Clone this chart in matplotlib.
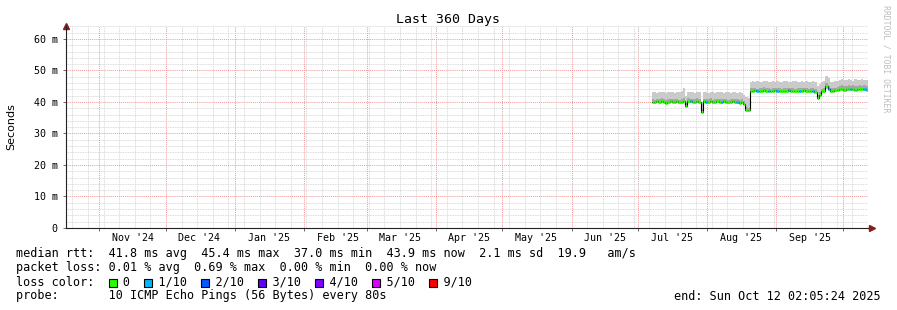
import matplotlib
matplotlib.use('Agg')
import matplotlib.pyplot as plt
import matplotlib.dates as mdates
import matplotlib.transforms as mtransforms
from matplotlib.patches import Rectangle
from matplotlib.ticker import MultipleLocator, FuncFormatter
import numpy as np
import pandas as pd
from datetime import datetime

# time window (360 days ending at the graph's end stamp)
t_start = datetime(2024, 10, 17, 2, 5, 24)
t_end = datetime(2025, 10, 12, 2, 5, 24)

# daily samples Jul 7 .. Oct 11 2025, values in ms
days = pd.date_range('2025-07-07', '2025-10-11', freq='D')

median = [40.1, 39.9, 40.2, 40.0, 40.3, 40.1, 39.8, 40.0, 40.2, 40.1, 40.0, 40.2, 39.9, 40.1, 40.3,
          38.8,
          40.4, 40.2, 40.0, 40.1, 40.3, 40.0,
          36.9,
          40.2, 40.0, 40.1, 40.3, 39.9, 40.0, 40.2, 40.1, 40.0, 40.2, 40.1, 39.9, 40.0, 40.2, 40.1, 40.0, 39.8, 40.1,
          39.5, 37.5, 37.3,
          43.6, 43.5, 43.7, 43.4, 43.6, 43.5, 43.8, 43.5, 43.6, 43.4, 43.5, 43.7, 43.6, 43.5, 43.4,
          43.6, 43.5, 43.7, 43.5, 43.6, 43.4, 43.5, 43.6, 43.5, 43.7, 43.5, 43.4, 43.6, 43.5, 43.3,
          41.4, 42.3, 43.4, 43.6, 45.0, 44.2, 43.6, 43.5, 43.7, 43.8,
          44.0, 44.1, 43.9, 44.0, 44.2, 44.0, 44.1, 43.9, 44.0, 44.1, 44.0, 44.2, 43.9]

smoke_hi = [43.0, 43.2, 42.9, 43.1, 43.3, 43.0, 42.8, 43.1, 43.2, 43.0, 42.9, 43.1, 43.3, 43.4, 44.5,
            42.0,
            43.1, 43.0, 43.2, 42.9, 43.1, 43.0,
            40.0,
            43.1, 43.0, 42.8, 43.2, 43.1, 42.9, 43.0, 43.2, 43.1, 42.8, 43.0, 43.1, 42.9, 43.2, 43.0, 42.8, 43.1, 42.9,
            42.2, 41.5, 41.3,
            46.3, 46.5, 46.2, 46.6, 46.4, 46.3, 46.7, 46.5, 46.2, 46.4, 46.6, 46.3, 46.5, 46.4, 46.2,
            46.6, 46.5, 46.3, 46.4, 46.7, 46.5, 46.3, 46.4, 46.6, 46.2, 46.5, 46.4, 46.3, 46.5, 46.4,
            45.0, 45.6, 46.3, 46.5, 48.2, 47.5, 46.4, 46.3, 46.5, 46.6,
            47.0, 47.2, 46.9, 47.1, 47.3, 47.0, 46.8, 47.2, 47.1, 46.9, 47.2, 47.0, 47.1]

smoke_mid = [40.9, 40.7, 41.0, 40.8, 41.1, 40.9, 40.6, 40.8, 41.0, 40.9, 40.8, 41.0, 40.7, 40.9, 41.3,
             39.8,
             41.2, 41.0, 40.8, 40.9, 41.1, 40.8,
             37.8,
             41.0, 40.8, 40.9, 41.1, 40.7, 40.8, 41.0, 40.9, 40.8, 41.0, 40.9, 40.7, 40.8, 41.0, 40.9, 40.8, 40.6, 40.9,
             40.3, 38.4, 38.1,
             44.4, 44.3, 44.5, 44.2, 44.4, 44.3, 44.6, 44.3, 44.4, 44.2, 44.3, 44.5, 44.4, 44.3, 44.2,
             44.4, 44.3, 44.5, 44.3, 44.4, 44.2, 44.3, 44.4, 44.3, 44.5, 44.3, 44.2, 44.4, 44.3, 44.1,
             42.2, 43.1, 44.2, 44.4, 46.0, 45.2, 44.4, 44.3, 44.5, 44.7,
             45.2, 45.3, 45.1, 45.2, 45.4, 45.2, 45.3, 45.1, 45.2, 45.3, 45.2, 45.4, 45.1]

smoke_lo = [39.7, 39.5, 39.8, 39.6, 39.9, 39.7, 39.4, 39.6, 39.8, 39.7, 39.6, 39.8, 39.5, 39.7, 39.9,
            38.5,
            40.0, 39.8, 39.6, 39.7, 39.9, 39.6,
            36.5,
            39.8, 39.6, 39.7, 39.9, 39.5, 39.6, 39.8, 39.7, 39.6, 39.8, 39.7, 39.5, 39.6, 39.8, 39.7, 39.6, 39.4, 39.7,
            39.0, 37.1, 36.9,
            43.2, 43.1, 43.3, 43.0, 43.2, 43.1, 43.4, 43.1, 43.2, 43.0, 43.1, 43.3, 43.2, 43.1, 43.0,
            43.2, 43.1, 43.3, 43.1, 43.2, 43.0, 43.1, 43.2, 43.1, 43.3, 43.1, 43.0, 43.2, 43.1, 42.9,
            41.0, 41.9, 43.0, 43.2, 44.2, 43.8, 43.2, 43.1, 43.3, 43.4,
            43.6, 43.7, 43.5, 43.6, 43.8, 43.6, 43.7, 43.5, 43.6, 43.7, 43.6, 43.8, 43.5]

# days where 1/10 pings were lost
loss_days = ['2025-07-24', '2025-07-31', '2025-08-07', '2025-08-14', '2025-08-23', '2025-08-28',
             '2025-09-01', '2025-09-06', '2025-09-11', '2025-09-17', '2025-09-24', '2025-10-04',
             '2025-10-10']

loss_labels = ['0', '1/10', '2/10', '3/10', '4/10', '5/10', '9/10']
loss_colors = ['#26ff00', '#00b8ff', '#0059ff', '#5e00ff', '#7e00ff', '#dd00ff', '#ff0000']

month_labels = ["Nov '24", "Dec '24", "Jan '25", "Feb '25", "Mar '25", "Apr '25",
                "May '25", "Jun '25", "Jul '25", "Aug '25", "Sep '25"]

legend_lines = [
    "median rtt:  41.8 ms avg  45.4 ms max  37.0 ms min  43.9 ms now  2.1 ms sd  19.9   am/s",
    "packet loss: 0.01 % avg  0.69 % max  0.00 % min  0.00 % now",
    None,
    "probe:       10 ICMP Echo Pings (56 Bytes) every 80s",
]

MONO = 'DejaVu Sans Mono'
W, H = 897, 310

fig = plt.figure(figsize=(W / 100, H / 100), dpi=100)
ax = fig.add_axes([66 / W, 82 / H, 802 / W, 202 / H])

x = mdates.date2num(days)
xe = np.append(x, x[-1] + 1)
def ext(a):
    return np.append(a, a[-1])

loss_set = set(pd.to_datetime(loss_days))
loss = [1 if d in loss_set else 0 for d in days]

ax.fill_between(xe, ext(smoke_lo), ext(smoke_hi), step='post', color='#cacaca', lw=0, zorder=2)
ax.fill_between(xe, ext(median), ext(smoke_mid), step='post', color='#a6a6a6', lw=0, zorder=2)
ax.step(xe, ext(median), where='post', color='black', lw=0.8, zorder=3)
ax.hlines(median, x, x + 1, colors=[loss_colors[l] for l in loss], lw=2.0, zorder=4)

ax.set_xlim(mdates.date2num(t_start), mdates.date2num(t_end))
ax.set_ylim(0, 64.1)

# grid
ax.xaxis.set_major_locator(mdates.MonthLocator())
ax.xaxis.set_minor_locator(mdates.WeekdayLocator(byweekday=mdates.SU))
ax.xaxis.set_major_formatter(plt.NullFormatter())
ax.yaxis.set_major_locator(MultipleLocator(10))
ax.yaxis.set_minor_locator(MultipleLocator(2))
ax.yaxis.set_major_formatter(FuncFormatter(lambda v, p: '0' if v == 0 else '%d m' % v))
ax.grid(which='minor', color='#cfcfcf', linestyle=(0, (1, 1)), lw=0.6)
ax.grid(which='major', color='#f29a9a', linestyle=(0, (1, 1)), lw=0.7)
ax.set_axisbelow(True)

ax.tick_params(axis='both', which='major', length=2, width=0.6, color='#555555', direction='out')
ax.tick_params(axis='both', which='minor', length=0)
ax.tick_params(axis='y', labelsize=7.2, pad=4)
for lab in ax.get_yticklabels():
    lab.set_family(MONO)

for s in ['top', 'right']:
    ax.spines[s].set_visible(False)
for s in ['left', 'bottom']:
    ax.spines[s].set_color('#222222')
    ax.spines[s].set_linewidth(0.8)

# month labels centred mid-month
trans = mtransforms.blended_transform_factory(ax.transData, ax.transAxes)
mids = pd.date_range('2024-11-01', '2025-09-01', freq='MS') + pd.Timedelta(days=15)
for d, lab in zip(mids, month_labels):
    ax.text(mdates.date2num(d), -0.05, lab, transform=trans, ha='center', va='center',
            family=MONO, fontsize=7.2)

# axis arrows
ax.plot([0], [1.0], marker='^', ms=4.5, color='#8c1c1c', transform=ax.transAxes, clip_on=False)
ax.plot([1.0, 1.003], [0, 0], color='#222222', lw=0.8, transform=ax.transAxes, clip_on=False)
ax.plot([1.005], [0], marker='>', ms=4.5, color='#8c1c1c', transform=ax.transAxes, clip_on=False)

fig.text(448 / W, 1 - 19 / H, 'Last 360 Days', ha='center', va='center', family=MONO, fontsize=9.5)
fig.text(11 / W, 1 - 127 / H, 'Seconds', rotation=90, ha='center', va='center',
         family='DejaVu Sans', fontsize=8)
fig.text(886 / W, 1 - 5 / H, 'RRDTOOL / TOBI OETIKER', rotation=270, ha='center', va='top',
         family=MONO, fontsize=5.9, color='#bdbdbd')

# legend block
fs = 8.5
cw = fs * 100 / 72 * 0.602
rows_y = [254, 268, 282, 296]
for line, y in zip(legend_lines, rows_y):
    if line:
        fig.text(16 / W, 1 - y / H, line, ha='left', va='center', family=MONO, fontsize=fs)

s = "loss color:  "
squares = []
for lab in loss_labels:
    squares.append(len(s))
    s += "  " + lab + "  "
fig.text(16 / W, 1 - rows_y[2] / H, s, ha='left', va='center', family=MONO, fontsize=fs)
for col, c in zip(squares, loss_colors):
    x0 = 16 + col * cw + 0.5
    fig.add_artist(Rectangle((x0 / W, 1 - (rows_y[2] + 4.5) / H), 8 / W, 8 / H,
                             transform=fig.transFigure, facecolor=c, edgecolor='black', lw=0.8))

fig.text(881 / W, 1 - rows_y[3] / H, 'end: Sun Oct 12 02:05:24 2025', ha='right', va='center',
         family=MONO, fontsize=fs)

fig.savefig('out.png', dpi=100, facecolor='white')
